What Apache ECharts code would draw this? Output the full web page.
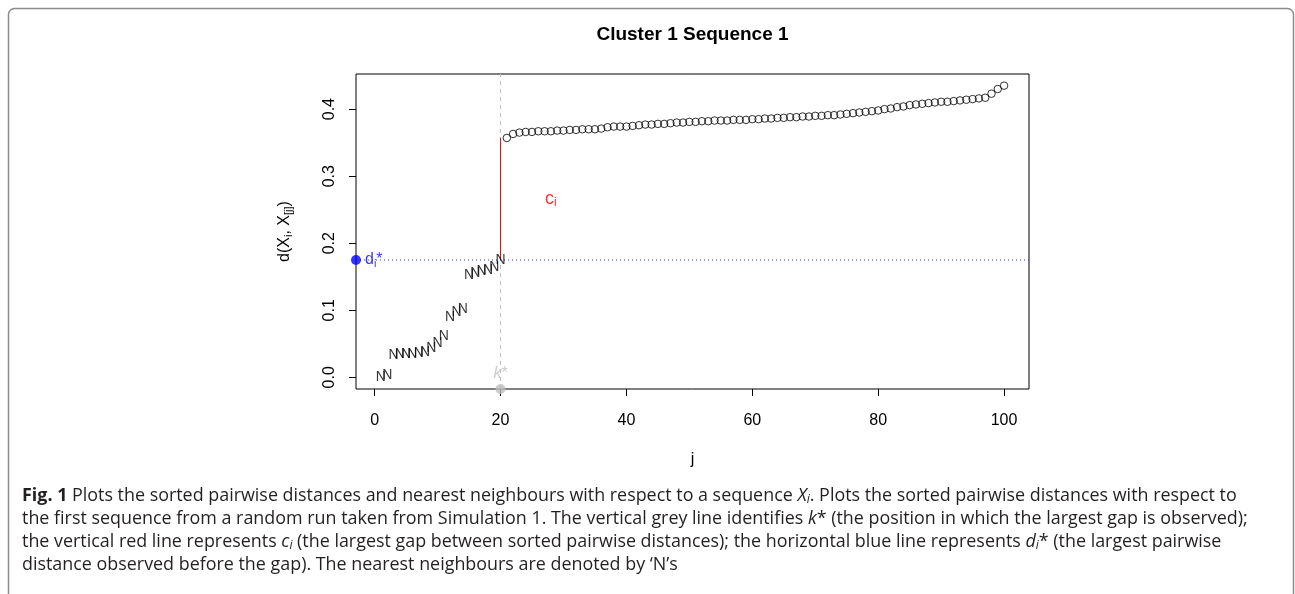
<!DOCTYPE html>
<html>
<head>
<meta charset="utf-8">
<script src="https://cdn.jsdelivr.net/npm/echarts@6/dist/echarts.min.js"></script>
<style>
html, body { margin: 0; padding: 0; background: #fff; }
#chart { width: 1295px; height: 594px; }
</style>
</head>
<body>
<div id="chart"></div>
<script>
// sorted pairwise distances d(X_i, X_[j]) for j = 1..100
// the first kStar of them are the nearest neighbours (drawn as 'N')
var neighbourDist = [0.000, 0.004, 0.033, 0.034, 0.035, 0.035, 0.036, 0.037, 0.043, 0.051,
                     0.062, 0.090, 0.097, 0.101, 0.153, 0.156, 0.158, 0.160, 0.165, 0.175];
var otherDist = [0.357, 0.363, 0.365, 0.366, 0.366, 0.367, 0.367, 0.367, 0.368, 0.368,
                 0.369, 0.369, 0.370, 0.370, 0.370, 0.371, 0.373, 0.374, 0.374, 0.374,
                 0.375, 0.376, 0.377, 0.377, 0.378, 0.378, 0.379, 0.380, 0.380, 0.381,
                 0.381, 0.382, 0.382, 0.383, 0.383, 0.383, 0.384, 0.384, 0.384, 0.385,
                 0.385, 0.386, 0.386, 0.387, 0.387, 0.388, 0.388, 0.389, 0.389, 0.390,
                 0.390, 0.391, 0.391, 0.392, 0.393, 0.394, 0.395, 0.396, 0.397, 0.398,
                 0.400, 0.401, 0.403, 0.404, 0.406, 0.407, 0.408, 0.409, 0.410, 0.411,
                 0.411, 0.412, 0.413, 0.414, 0.415, 0.416, 0.417, 0.423, 0.430, 0.435];
var kStar = 20;
var xTicks = [0, 20, 40, 60, 80, 100];
var yTicks = [0.0, 0.1, 0.2, 0.3, 0.4];

var dStar = neighbourDist[kStar - 1];
var gapTop = otherDist[0];
var n = neighbourDist.length + otherDist.length;
// R pads axis ranges by 4%
var xMin = 1 - (n - 1) * 0.04, xMax = n + (n - 1) * 0.04;
var yLo = Math.min.apply(null, neighbourDist), yHi = Math.max.apply(null, otherDist);
var yMin = yLo - (yHi - yLo) * 0.04, yMax = yHi + (yHi - yLo) * 0.04;

var RFONT = 'Liberation Sans, Arial, sans-serif';
var CAPFONT = 'Open Sans, sans-serif';
var CAPSIZE = 17.9;

var nnData = neighbourDist.map(function (v, i) { return [i + 1, v]; });
var otherData = otherDist.map(function (v, i) { return [i + kStar + 1, v]; });

var capRich = {
    b: {fontWeight: 'bold', fontSize: CAPSIZE, fontFamily: CAPFONT, color: '#231f20'},
    it: {fontStyle: 'italic', fontSize: CAPSIZE, fontFamily: CAPFONT, color: '#231f20'},
    sub: {fontStyle: 'italic', fontSize: 12, fontFamily: CAPFONT, color: '#231f20', padding: [8, 0, 0, 0]}
};
var capLines = [
    '{b|Fig. 1} Plots the sorted pairwise distances and nearest neighbours with respect to a sequence {it|X}{sub|i}. Plots the sorted pairwise distances with respect to',
    'the first sequence from a random run taken from Simulation 1. The vertical grey line identifies {it|k}* (the position in which the largest gap is observed);',
    'the vertical red line represents {it|c}{sub|i} (the largest gap between sorted pairwise distances); the horizontal blue line represents {it|d}{sub|i}* (the largest pairwise',
    'distance observed before the gap). The nearest neighbours are denoted by \u2018N\u2019s'
];
var capGraphics = capLines.map(function (t, i) {
    return {
        type: 'text', x: 22, y: 496 + i * 23, silent: true,
        style: {text: t, rich: capRich, fontSize: CAPSIZE, fontFamily: CAPFONT, fill: '#231f20',
                align: 'left', verticalAlign: 'middle'}
    };
});

// straight reference line through two data points
function refLine(a, b, color, type) {
    return {
        type: 'line', silent: true, data: [a, b], symbol: 'none',
        lineStyle: {color: color, type: type, width: 1}, z: 1
    };
}

var chart = echarts.init(document.getElementById('chart'), null, {renderer: 'canvas'});
chart.setOption({
    animation: false,
    backgroundColor: '#fff',
    grid: {
        left: 356, top: 74, right: 266, bottom: 205,
        show: true, borderColor: '#000', borderWidth: 1,
        containLabel: false, outerBoundsMode: 'none'
    },
    xAxis: {
        type: 'value', min: xMin, max: xMax,
        name: 'j', nameLocation: 'middle', nameGap: 63,
        nameTextStyle: {fontSize: 16, fontFamily: RFONT, color: '#000'},
        axisLine: {show: false, onZero: false},
        axisTick: {show: true, inside: false, length: 7, customValues: xTicks, lineStyle: {color: '#000'}},
        axisLabel: {customValues: xTicks, margin: 24, fontSize: 16, fontFamily: RFONT, color: '#000'},
        splitLine: {show: false}
    },
    yAxis: {
        type: 'value', min: yMin, max: yMax,
        name: 'd(X{s|i}, X{s|[j]})', nameLocation: 'middle', nameGap: 62,
        nameTextStyle: {fontSize: 16, fontFamily: RFONT, color: '#000',
            rich: {s: {fontSize: 11, fontFamily: RFONT, color: '#000', padding: [7, 0, 0, 0]}}},
        axisLine: {show: false, onZero: false},
        axisTick: {show: true, inside: false, length: 7, customValues: yTicks, lineStyle: {color: '#000'}},
        axisLabel: {customValues: yTicks, rotate: 90, margin: 18, fontSize: 16, fontFamily: RFONT, color: '#000',
            formatter: function (v) { return v.toFixed(1); }},
        splitLine: {show: false}
    },
    graphic: [
        {type: 'rect', silent: true, shape: {x: 8.5, y: 8.5, width: 1285, height: 640, r: 6},
         style: {fill: 'none', stroke: '#8c8c8c', lineWidth: 1.5}},
        {type: 'text', silent: true, x: 692.5, y: 35,
         style: {text: 'Cluster 1 Sequence 1', fontSize: 19, fontWeight: 'bold', fontFamily: RFONT,
                 fill: '#000', align: 'center', verticalAlign: 'middle'}}
    ].concat(capGraphics),
    series: [
        // k* (grey dashed), d_i* (blue dotted) and the gap c_i (red)
        refLine([kStar, yMin], [kStar, yMax], '#bebebe', [4, 4]),
        refLine([xMin, dStar], [xMax, dStar], '#3030ff', [1, 3]),
        refLine([kStar, dStar], [kStar, gapTop], '#ff0000', 'solid'),
        {
            // nearest neighbours, drawn as the letter N
            type: 'scatter', silent: true, data: nnData,
            symbolSize: 1, itemStyle: {color: 'rgba(0,0,0,0)'},
            label: {show: true, position: 'inside', formatter: 'N', fontSize: 14, fontFamily: RFONT, color: '#000'}
        },
        {
            type: 'scatter', silent: true, data: otherData,
            symbol: 'circle', symbolSize: 7.5,
            itemStyle: {color: 'rgba(0,0,0,0)', borderColor: '#000', borderWidth: 1}
        },
        {
            // d_i* marker on the left edge
            type: 'scatter', silent: true, data: [[xMin, dStar]],
            symbolSize: 10, itemStyle: {color: '#0000ff'},
            label: {show: true, position: 'right', distance: 4, formatter: 'd{s|i}*',
                fontSize: 16, fontFamily: RFONT, color: '#0000ff',
                rich: {s: {fontSize: 11, fontFamily: RFONT, color: '#0000ff', padding: [7, 0, 0, 0]}}}
        },
        {
            // k* marker on the bottom edge
            type: 'scatter', silent: true, data: [[kStar, yMin]],
            symbolSize: 10, itemStyle: {color: '#bebebe'},
            label: {show: true, position: 'top', distance: 2, formatter: '{k|k}*',
                fontSize: 16, fontFamily: RFONT, color: '#bebebe',
                rich: {k: {fontStyle: 'italic', fontSize: 16, fontFamily: RFONT, color: '#bebebe'}}}
        },
        {
            // c_i label half way up the gap
            type: 'scatter', silent: true, data: [[kStar + 8, (dStar + gapTop) / 2]],
            symbolSize: 1, itemStyle: {color: 'rgba(0,0,0,0)'},
            label: {show: true, position: 'inside', formatter: 'c{s|i}',
                fontSize: 18, fontFamily: RFONT, color: '#ff0000',
                rich: {s: {fontSize: 12, fontFamily: RFONT, color: '#ff0000', padding: [8, 0, 0, 0]}}}
        }
    ]
});
</script>
</body>
</html>
